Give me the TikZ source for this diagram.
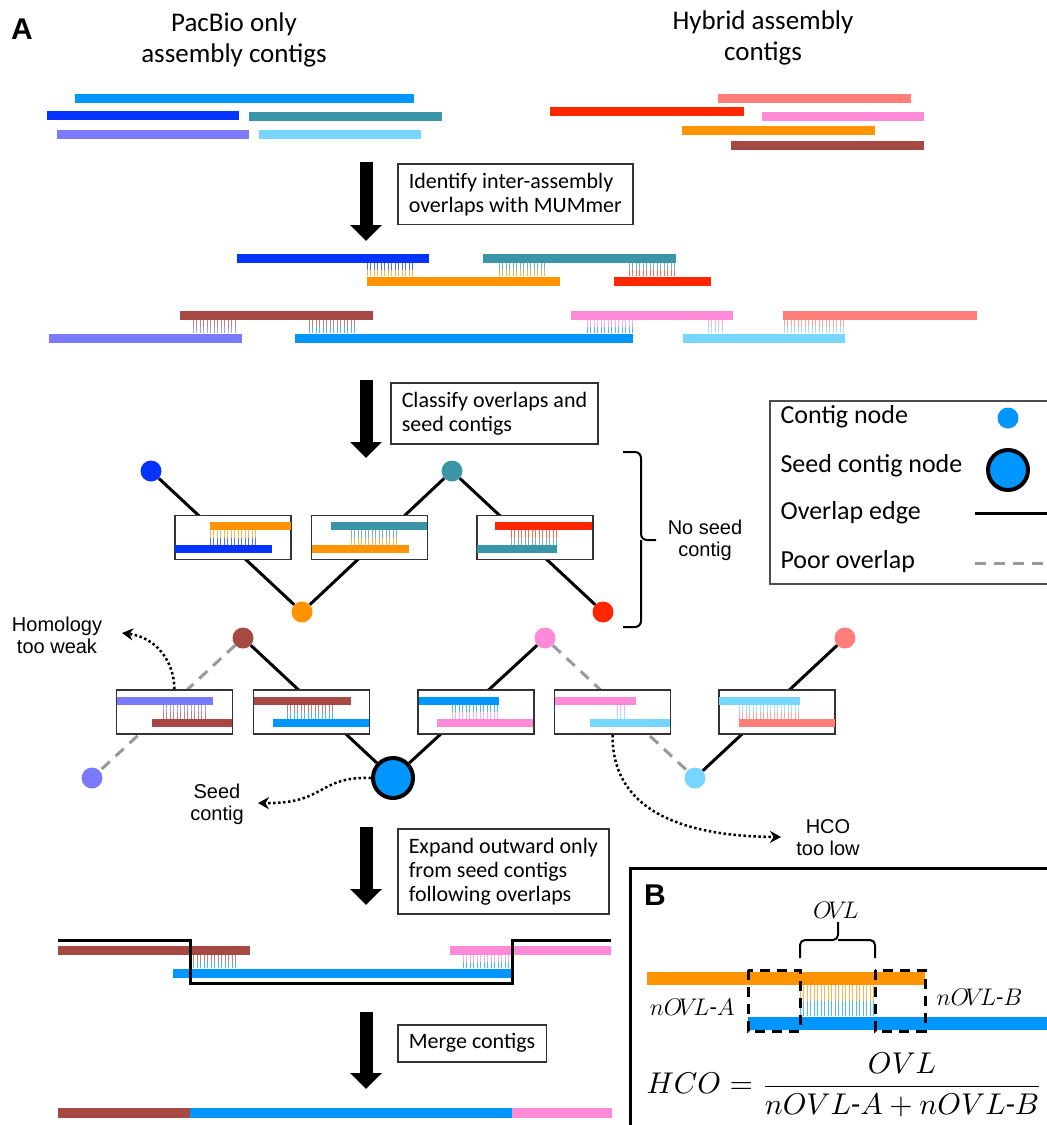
\documentclass[tikz,border=0pt]{standalone}
\usepackage{amsmath}
\usepackage{graphicx}
\usepackage{fontspec}
\setmainfont{Carlito}
\newfontfamily\arialfont{Liberation Sans}
\usepackage{tikz}
\usetikzlibrary{arrows.meta}

\definecolor{aqua1}{HTML}{0096FF}
\definecolor{blue1}{HTML}{0433FF}
\definecolor{teal1}{HTML}{3A95A8}
\definecolor{lav1}{HTML}{7A7AFA}
\definecolor{sky1}{HTML}{76D6FF}
\definecolor{salmon1}{HTML}{FF7E79}
\definecolor{red1}{HTML}{FF2600}
\definecolor{pink1}{HTML}{FF8AD8}
\definecolor{orange1}{HTML}{FF9300}
\definecolor{brown1}{HTML}{A64942}

% contig bar: [thickness]{colour}{x1}{x2}{y}
\newcommand{\ctg}[5][9pt]{\draw[line width=#1, #2] (#3,#5) -- (#4,#5);}
% overlap hatch: {x1}{x2}{y top}{y bottom}{colour top}{colour bottom}
\newcommand{\ovlap}[6]{%
  \pgfmathsetmacro{\hxb}{#1+3.5}%
  \pgfmathsetmacro{\hym}{(#3+#4)/2}%
  \foreach \hx in {#1,\hxb,...,#2}{%
    \draw[#5!70, line width=0.9pt] (\hx,#3) -- (\hx,\hym);
    \draw[#6!70, line width=0.9pt] (\hx,\hym) -- (\hx,#4);
  }}

\begin{document}
\begin{tikzpicture}[x=1pt, y=-1pt,
    cnode/.style={circle, inner sep=0pt, minimum size=21pt},
    seednode/.style={circle, inner sep=0pt, minimum size=40pt, draw=black, line width=4pt, fill=aqua1},
    edge/.style={line width=3pt},
    pooredge/.style={line width=3pt, black!40, dash pattern=on 11pt off 8pt},
    ovbox/.style={draw=black!80, line width=1.5pt, fill=white, minimum width=116pt, minimum height=44pt, inner sep=0pt},
    stepbox/.style={draw=black!80, line width=1.5pt, anchor=north west, align=left, inner xsep=11pt, inner ysep=9pt, font=\fontsize{22}{24}\selectfont},
    bigarrow/.style={line width=13pt, -{Triangle[width=31pt,length=16pt]}},
    dotarrow/.style={line width=2.5pt, dash pattern=on 2.5pt off 2.5pt, -{Stealth[length=11pt,width=12pt]}},
    lbl/.style={align=center, font=\arialfont\fontsize{20}{22}\selectfont}]
  \useasboundingbox (0,0) rectangle (1047,1125);

  % panel A, input contigs
  \node[font=\arialfont\bfseries\fontsize{30}{30}\selectfont] (pa) at (22,29) {A};
  \node[align=center, font=\fontsize{27}{31}\selectfont] (tpac) at (234,40) {PacBio only\\assembly contigs};
  \node[align=center, font=\fontsize{27}{31}\selectfont] (thyb) at (763,38) {Hybrid assembly\\contigs};
  \ctg{aqua1}{75}{414}{98}
  \ctg{blue1}{47}{239}{115}
  \ctg{teal1}{249}{442}{116}
  \ctg{lav1}{57}{249}{134}
  \ctg{sky1}{259}{421}{134}
  \ctg{salmon1}{718}{911}{98}
  \ctg{red1}{550}{744}{111}
  \ctg{pink1}{762}{924}{116}
  \ctg{orange1}{682}{875}{130}
  \ctg{brown1}{731}{924}{145}

  % step 1
  \coordinate (a1s) at (366,162);
  \coordinate (a1e) at (366,241);
  \draw[bigarrow] (a1s) -- (a1e);
  \node[stepbox] (s1) at (397,163) {Identify inter-assembly\\overlaps with MUMmer};
  \ctg{blue1}{237}{429}{258}
  \ctg{teal1}{483}{676}{258}
  \ctg{orange1}{367}{560}{281}
  \ctg{red1}{614}{711}{281}
  \ovlap{367}{414}{263}{276}{blue1}{orange1}
  \ovlap{499}{545}{263}{276}{teal1}{orange1}
  \ovlap{629}{676}{263}{276}{teal1}{red1}
  \ctg{brown1}{180}{373}{315}
  \ctg{pink1}{571}{733}{315}
  \ctg{salmon1}{783}{977}{315}
  \ctg{lav1}{49}{242}{338}
  \ctg{aqua1}{295}{633}{338}
  \ctg{sky1}{683}{845}{338}
  \ovlap{193}{237}{320}{333}{brown1}{lav1}
  \ovlap{309}{357}{320}{333}{brown1}{aqua1}
  \ovlap{587}{633}{320}{333}{pink1}{aqua1}
  \ovlap{708}{722}{320}{333}{pink1}{sky1}
  \ovlap{784}{845}{320}{333}{salmon1}{sky1}

  % step 2
  \coordinate (a2s) at (366,380);
  \coordinate (a2e) at (366,458);
  \draw[bigarrow] (a2s) -- (a2e);
  \node[stepbox] (s2) at (390,382) {Classify overlaps and\\seed contigs};

  % legend
  \node[draw=black!70, line width=1.5pt, minimum width=290pt, minimum height=183pt, anchor=north west] (legend) at (769,400) {};
  \node[anchor=west, font=\fontsize{26}{28}\selectfont] (lg1) at (777,417) {Contig node};
  \node[anchor=west, font=\fontsize{26}{28}\selectfont] (lg2) at (777,466) {Seed contig node};
  \node[anchor=west, font=\fontsize{26}{28}\selectfont] (lg3) at (777,513) {Overlap edge};
  \node[anchor=west, font=\fontsize{26}{28}\selectfont] (lg4) at (777,562) {Poor overlap};
  \node[cnode, fill=aqua1] (lgdot) at (1008,418) {};
  \node[seednode] (lgseed) at (1008,470) {};
  \draw[edge] (975,513) -- (1052,513);
  \draw[pooredge] (975,563) -- (1052,563);

  % graph without seed
  \node[cnode, fill=blue1] (nblue) at (151,471) {};
  \node[cnode, fill=teal1] (nteal) at (452,471) {};
  \node[cnode, fill=orange1] (norange) at (302,612) {};
  \node[cnode, fill=red1] (nred) at (603,612) {};
  \draw[edge] (nblue) -- (norange);
  \draw[edge] (nteal) -- (norange);
  \draw[edge] (nteal) -- (nred);
  \node[ovbox] (u1) at (233,537.5) {};
  \node[ovbox] (u2) at (369.5,537.5) {};
  \node[ovbox] (u3) at (535,537.5) {};
  \ctg[8pt]{orange1}{210}{291}{526}
  \ctg[8pt]{blue1}{175}{272}{549}
  \ovlap{210}{257}{530}{545}{orange1}{blue1}
  \ctg[8pt]{teal1}{331}{427}{526}
  \ctg[8pt]{orange1}{312}{409}{549}
  \ovlap{351}{398}{530}{545}{teal1}{orange1}
  \ctg[8pt]{red1}{495}{592}{526}
  \ctg[8pt]{teal1}{477}{557}{549}
  \ovlap{511}{557}{530}{545}{red1}{teal1}
  \draw[line width=2pt, rounded corners=6pt] (623,452) -| (641,540) -- (656,540);
  \draw[line width=2pt, rounded corners=6pt] (623,627) -| (641,540);
  \node[lbl] (noseed) at (705,540) {No seed\\contig};

  % graph with seed
  \node[cnode, fill=brown1] (nbrown) at (243,638) {};
  \node[cnode, fill=pink1] (npink) at (545,638) {};
  \node[cnode, fill=salmon1] (nsalmon) at (845,638) {};
  \node[cnode, fill=lav1] (nlav) at (92,778) {};
  \node[seednode] (nseed) at (393,778) {};
  \node[cnode, fill=sky1] (nsky) at (695,778) {};
  \draw[pooredge] (nbrown) -- (nlav);
  \draw[edge] (nbrown) -- (nseed);
  \draw[edge] (npink) -- (nseed);
  \draw[pooredge] (npink) -- (nsky);
  \draw[edge] (nsalmon) -- (nsky);
  \node[ovbox] (l1) at (174.5,712) {};
  \node[ovbox] (l2) at (311.5,712) {};
  \node[ovbox] (l3) at (476,712) {};
  \node[ovbox] (l4) at (612.5,712) {};
  \node[ovbox] (l5) at (777,712) {};
  \ctg[8pt]{lav1}{117}{213}{701}
  \ctg[8pt]{brown1}{152}{232}{723}
  \ovlap{163}{207}{705}{719}{lav1}{brown1}
  \ctg[8pt]{brown1}{254}{351}{701}
  \ctg[8pt]{aqua1}{273}{369}{723}
  \ovlap{287}{333}{705}{719}{brown1}{aqua1}
  \ctg[8pt]{aqua1}{419}{499}{701}
  \ctg[8pt]{pink1}{437}{533}{723}
  \ovlap{452}{499}{705}{719}{aqua1}{pink1}
  \ctg[8pt]{pink1}{555}{636}{701}
  \ctg[8pt]{sky1}{590}{670}{723}
  \ovlap{617}{627}{705}{719}{pink1}{sky1}
  \ctg[8pt]{sky1}{719}{800}{701}
  \ctg[8pt]{salmon1}{739}{835}{723}
  \ovlap{739}{800}{705}{719}{sky1}{salmon1}

  % rejected / seed labels
  \node[lbl] (homtxt) at (57,635) {Homology\\too weak};
  \node[lbl] (seedtxt) at (217,804) {Seed\\contig};
  \node[lbl] (hcotxt) at (828,838) {HCO\\too low};
  \coordinate (homtip) at (122,633);
  \coordinate (seedtip) at (258,803);
  \coordinate (hcotip) at (781,837);
  \draw[dotarrow] (l1.north) .. controls (174,660) and (155,637) .. (homtip);
  \draw[dotarrow] (nseed.west) .. controls (318,776) and (326,804) .. (seedtip);
  \draw[dotarrow] (l4.south) .. controls (612,805) and (672,836) .. (hcotip);

  % step 3
  \coordinate (a3s) at (366,827);
  \coordinate (a3e) at (366,905);
  \draw[bigarrow] (a3s) -- (a3e);
  \node[stepbox] (s3) at (397,828) {Expand outward only\\from seed contigs\\following overlaps};
  \ctg{brown1}{58}{250}{950}
  \ctg{pink1}{450}{611}{950}
  \ctg{aqua1}{173}{511}{973}
  \ovlap{190}{237}{955}{968}{brown1}{aqua1}
  \ovlap{463}{510}{955}{968}{pink1}{aqua1}
  \draw[line width=3pt] (58,940) -| (190,983) -| (512,940) -- (611,940);

  % step 4
  \coordinate (a4s) at (366,1012);
  \coordinate (a4e) at (366,1089);
  \draw[bigarrow] (a4s) -- (a4e);
  \node[stepbox] (s4) at (397,1024) {Merge contigs};
  \ctg[10pt]{brown1}{58}{190}{1113}
  \ctg[10pt]{aqua1}{190}{512}{1113}
  \ctg[10pt]{pink1}{512}{612}{1113}

  % panel B
  \draw[line width=3pt] (630,1130) |- (1052,868);
  \node[font=\arialfont\bfseries\fontsize{30}{30}\selectfont] (pb) at (655,895) {B};
  \ctg[13pt]{orange1}{647}{925}{978}
  \ctg[13pt]{aqua1}{748}{1052}{1023}
  \ovlap{800}{875}{985}{1016}{orange1}{aqua1}
  \draw[line width=3pt, dash pattern=on 10pt off 7pt] (748,970) rectangle (800,1031);
  \draw[line width=3pt, dash pattern=on 10pt off 7pt] (875,970) rectangle (925,1031);
  \draw[line width=2pt, rounded corners=5pt] (800,958) |- (838,940) -- (838,922);
  \draw[line width=2pt, rounded corners=5pt] (875,958) |- (838,940);
  \node[font=\fontsize{12}{14}\selectfont] (ovl) at (836,910) {\scalebox{2}{$O\!V\!L$}};
  \node[anchor=east, font=\fontsize{12}{14}\selectfont] (nova) at (738,1007) {\scalebox{2}{$nO\!V\!L\text{-}A$}};
  \node[anchor=west, font=\fontsize{12}{14}\selectfont] (novb) at (933,997) {\scalebox{2}{$nO\!V\!L\text{-}B$}};
  \node[anchor=west, font=\fontsize{10}{12}\selectfont] (hco) at (643,1085) {\scalebox{3}{$HCO = \dfrac{OVL}{nOVL\text{-}A + nOVL\text{-}B}$}};
\end{tikzpicture}
\end{document}
